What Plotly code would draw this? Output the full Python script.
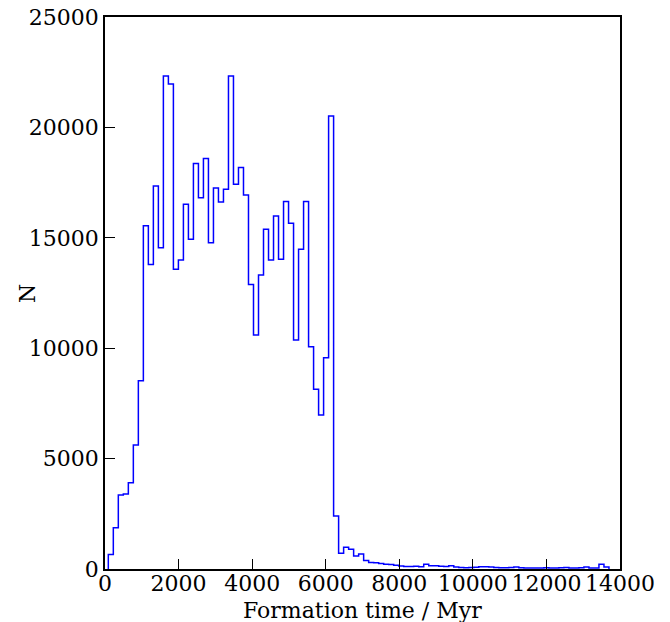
import plotly.graph_objects as go

# Histogram of formation times (Myr)
bin_start = 90.0
bin_width = 136.1
counts = [
    660, 1870, 3350, 3400, 3910, 5620, 8530, 15550, 13790, 17350,
    14550, 22330, 21970, 13580, 14000, 16520, 14930, 18360, 16810, 18590,
    14780, 17250, 16620, 17200, 22330, 17420, 18180, 16940, 12880, 10600,
    13320, 15390, 14000, 15990, 14030, 16640, 15660, 10370, 14480, 16640,
    10070, 8140, 6980, 9570, 20520, 2400, 710, 980, 900, 590,
    680, 380, 300, 280, 250, 220, 200, 170, 140, 110,
    110, 120, 100, 210, 150, 150, 130, 110, 150, 90,
    70, 60, 70, 80, 100, 100, 90, 70, 60, 60,
    70, 90, 60, 50, 50, 40, 50, 60, 50, 50,
    60, 70, 50, 40, 60, 90, 50, 40, 220, 90,
]
x_ticks = [0, 2000, 4000, 6000, 8000, 10000, 12000, 14000]
y_ticks = [0, 5000, 10000, 15000, 20000, 25000]
x_title = "Formation time / Myr"
y_title = "N"

edges = [bin_start + i * bin_width for i in range(len(counts) + 1)]
xs = [edges[0]] + edges[:-1] + [edges[-1], edges[-1]]
ys = [0] + counts + [counts[-1], 0]

fig = go.Figure(go.Scatter(
    x=xs, y=ys, mode="lines", line=dict(color="#0000ff", width=1.5, shape="hv"),
    hoverinfo="skip", showlegend=False,
))

font = dict(family="DejaVu Serif", size=22, color="black")
title_font = dict(family="DejaVu Serif", size=22, color="black")
axis_common = dict(
    showgrid=False, zeroline=False, showline=True, linecolor="black", linewidth=1.5,
    mirror=True, ticks="inside", ticklen=10, tickwidth=1.2, tickcolor="black",
    tickfont=font, automargin=False,
)
fig.update_layout(
    width=670, height=622,
    margin=dict(l=105, r=50, t=17, b=53, autoexpand=False),
    paper_bgcolor="white", plot_bgcolor="white",
    font=font,
    xaxis=dict(range=[0, 14000], tickvals=x_ticks, ticktext=[str(v) for v in x_ticks],
               ticklabelstandoff=-6, **axis_common),
    yaxis=dict(range=[0, 25000], tickvals=y_ticks, ticktext=[str(v) for v in y_ticks],
               **axis_common),
    annotations=[
        dict(text=x_title, xref="paper", yref="paper", x=0.5, y=-0.075,
             xanchor="center", yanchor="middle", showarrow=False, font=title_font),
        dict(text=y_title, xref="paper", yref="paper", x=-0.1515, y=0.5,
             xanchor="center", yanchor="middle", showarrow=False, textangle=-90,
             font=title_font),
    ],
)
fig.write_html("out.html")
